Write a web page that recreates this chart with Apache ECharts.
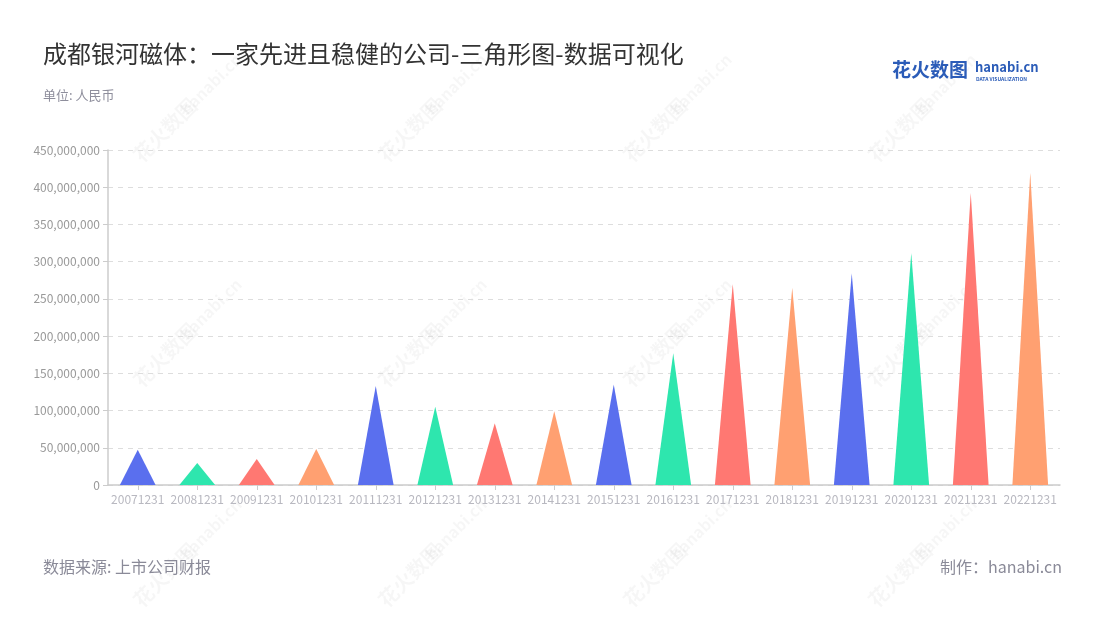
<!DOCTYPE html>
<html>
<head>
<meta charset="utf-8">
<script src="https://cdn.jsdelivr.net/npm/echarts@6/dist/echarts.min.js"></script>
<style>html,body{margin:0;padding:0;background:#fff}#c{width:1100px;height:620px}</style>
</head>
<body>
<div id="c"></div>
<script>
const categories = ['20071231','20081231','20091231','20101231','20111231','20121231','20131231','20141231','20151231','20161231','20171231','20181231','20191231','20201231','20211231','20221231'];
const values = [47500000, 29500000, 35000000, 48500000, 133000000, 105000000, 83000000, 99000000, 135000000, 177000000, 270000000, 265000000, 284500000, 311500000, 392500000, 419500000];
const palette = ['#5a6fee', '#2ee6ae', '#ff7872', '#ffa071'];
const yTicks = [0, 50000000, 100000000, 150000000, 200000000, 250000000, 300000000, 350000000, 400000000, 450000000];

const font = '"Noto Sans CJK SC", "Noto Sans", sans-serif';
const chart = echarts.init(document.getElementById('c'));

const watermarks = [];
const wmPos = [[165,130],[410,130],[655,130],[900,130],[165,355],[410,355],[655,355],[900,355],[165,575],[410,575],[655,575],[900,575]];
wmPos.forEach(p => {
  watermarks.push({
    type: 'text', x: p[0], y: p[1], rotation: Math.PI / 4, silent: true, z: 0,
    style: { text: '花火数图', font: 'bold 20px ' + font, fill: 'rgba(0,0,0,0.035)', align: 'center', verticalAlign: 'middle' }
  });
  watermarks.push({
    type: 'text', x: p[0] + 46, y: p[1] - 46, rotation: Math.PI / 4, silent: true, z: 0,
    style: { text: 'hanabi.cn', font: 'bold 16px ' + font, fill: 'rgba(0,0,0,0.035)', align: 'center', verticalAlign: 'middle' }
  });
});

chart.setOption({
  backgroundColor: '#fff',
  animation: false,
  title: [
    { text: '成都银河磁体：一家先进且稳健的公司-三角形图-数据可视化', left: 38, top: 37,
      textStyle: { fontSize: 24, fontWeight: 'normal', color: '#333', fontFamily: font } },
    { text: '单位: 人民币', left: 38, top: 84,
      textStyle: { fontSize: 13, fontWeight: 'normal', color: '#8e8e9c', fontFamily: font } },
    { text: '数据来源: 上市公司财报', left: 38, top: 554,
      textStyle: { fontSize: 16, fontWeight: 'normal', color: '#8a8a98', fontFamily: font } },
    { text: '制作：hanabi.cn', right: 33, top: 554,
      textStyle: { fontSize: 16, fontWeight: 'normal', color: '#8a8a98', fontFamily: font } }
  ],
  graphic: watermarks.concat([
    { type: 'text', left: 892, top: 60, z: 10,
      style: { text: '花火数图', font: 'bold 19px ' + font, fill: '#2b5cb8' } },
    { type: 'text', left: 975, top: 61, z: 10,
      style: { text: 'hanabi.cn', font: 'bold 13px ' + font, fill: '#2b5cb8' } },
    { type: 'text', left: 976, top: 77, z: 10,
      style: { text: 'DATA VISUALIZATION', font: 'bold 5px ' + font, fill: '#2b5cb8' } }
  ]),
  grid: { left: 108, right: 40, top: 150, bottom: 135 },
  xAxis: {
    type: 'category',
    data: categories,
    axisLine: { lineStyle: { color: '#cccccc', width: 1.5 } },
    axisTick: { show: true, alignWithLabel: true, lineStyle: { color: '#cccccc' } },
    axisLabel: { color: '#b8b8c0', fontSize: 12, interval: 0, fontFamily: font, margin: 8 }
  },
  yAxis: {
    type: 'value',
    min: 0, max: 450000000, interval: 50000000,
    axisLine: { show: true, lineStyle: { color: '#cccccc', width: 1.5 } },
    axisTick: { show: true, lineStyle: { color: '#cccccc' } },
    axisLabel: {
      color: '#999999', fontSize: 12, fontFamily: font,
      formatter: v => yTicks.indexOf(v) >= 0 ? v.toLocaleString('en-US') : ''
    },
    splitLine: { lineStyle: { color: '#dddddd', type: [5, 5] } }
  },
  series: [{
    type: 'pictorialBar',
    barCategoryGap: '40%',
    symbol: 'path://M0,10 L10,10 L5,0 L0,10 z',
    data: values.map((v, i) => ({ value: v, itemStyle: { color: palette[i % 4] } })),
    z: 5
  }]
});
</script>
</body>
</html>
